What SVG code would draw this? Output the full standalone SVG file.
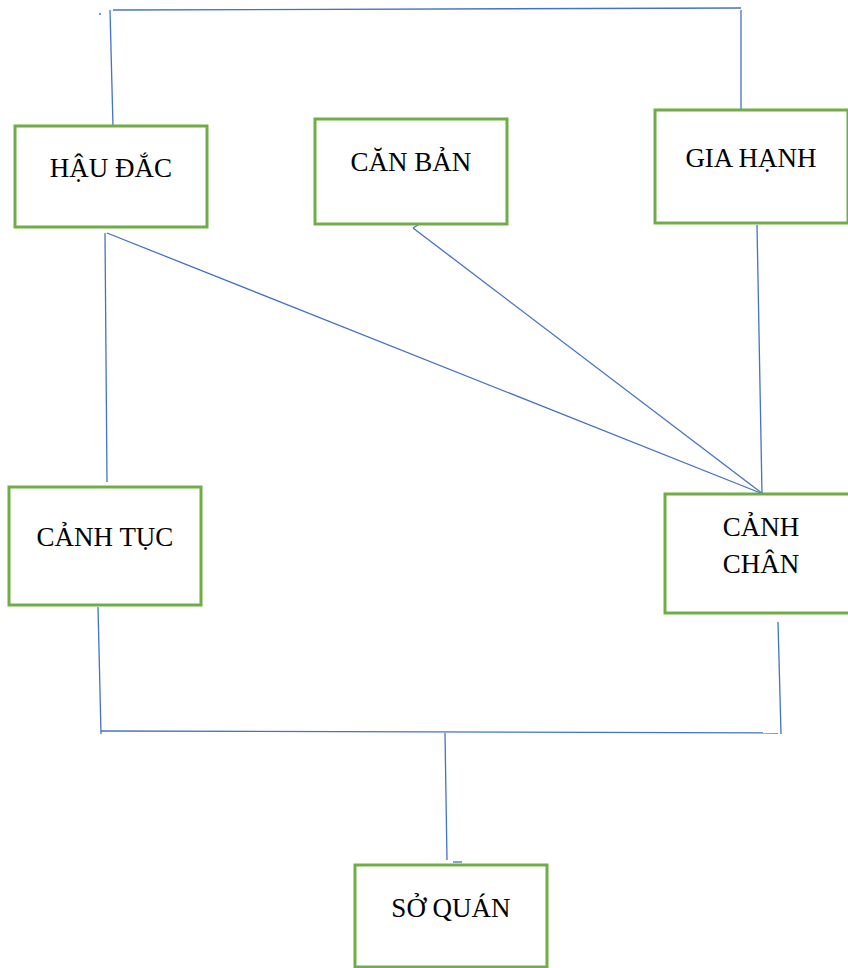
<svg xmlns="http://www.w3.org/2000/svg" width="848" height="968" viewBox="0 0 848 968">
<style>
.box{fill:#fff;stroke:#70AD47;stroke-width:3}
.lbl{font-family:"Liberation Serif","Times New Roman",serif;font-size:27px;fill:#000;text-anchor:middle}
.c line{stroke:#4472C4;stroke-width:1.3}
</style>
<rect width="848" height="968" fill="#fff"/>
<g class="c" id="connectors">
<line x1="113" y1="10" x2="741" y2="8"/>
<line x1="110" y1="10" x2="113" y2="127"/>
<line x1="741" y1="10" x2="741" y2="111"/>
<line x1="99" y1="14" x2="101" y2="14"/>
<line x1="105" y1="233" x2="107" y2="482"/>
<line x1="107" y1="233" x2="763" y2="494"/>
<line x1="413" y1="228" x2="763" y2="494"/>
<line x1="413" y1="228" x2="418" y2="225"/>
<line x1="757" y1="225" x2="762" y2="494"/>
<line x1="762" y1="494" x2="770" y2="496"/>
<line x1="98" y1="607" x2="101" y2="734"/>
<line x1="778" y1="622" x2="781" y2="734"/>
<line x1="101" y1="731" x2="778" y2="733"/>
<line x1="445" y1="733" x2="447" y2="860"/>
<line x1="453" y1="862" x2="462" y2="862"/>
</g>
<g id="hau-dac"><rect class="box" x="15" y="126" width="192" height="101"/><text class="lbl" x="111" y="177">HẬU ĐẮC</text></g>
<g id="can-ban"><rect class="box" x="315" y="119" width="192" height="105"/><text class="lbl" x="411" y="171">CĂN BẢN</text></g>
<g id="gia-hanh"><rect class="box" x="655" y="110" width="193" height="113"/><text class="lbl" x="751" y="167">GIA HẠNH</text></g>
<g id="canh-tuc"><rect class="box" x="9" y="487" width="192" height="118"/><text class="lbl" x="105" y="546">CẢNH TỤC</text></g>
<g id="canh-chan"><rect class="box" x="665" y="494" width="185" height="119"/><text class="lbl" x="761" y="536">CẢNH</text><text class="lbl" x="761" y="573">CHÂN</text></g>
<g id="so-quan"><rect class="box" x="355" y="865" width="192" height="102"/><text class="lbl" x="451" y="917">SỞ QUÁN</text></g>
</svg>
